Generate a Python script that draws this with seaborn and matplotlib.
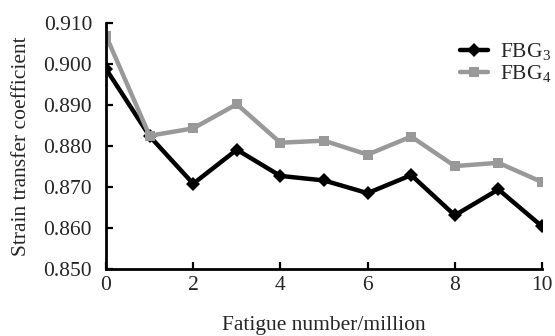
import numpy as np
import pandas as pd
import matplotlib
matplotlib.use("Agg")
import matplotlib.pyplot as plt
import seaborn as sns

# Fatigue cycles (million) and strain transfer coefficients of two gratings
fatigue = [0, 1, 2, 3, 4, 5, 6, 7, 8, 9, 10]
fbg3 = [0.8988, 0.8824, 0.8708, 0.8791, 0.8727, 0.8716, 0.8685, 0.8729, 0.8631, 0.8694, 0.8604]
fbg4 = [0.9069, 0.8825, 0.8843, 0.8902, 0.8808, 0.8813, 0.8779, 0.8823, 0.8751, 0.8759, 0.8712]
series_names = ["FBG$_3$", "FBG$_4$"]
x_ticks = [0, 2, 4, 6, 8, 10]
y_ticks = [0.850, 0.860, 0.870, 0.880, 0.890, 0.900, 0.910]

df = pd.DataFrame({
    "x": fatigue * 2,
    "y": fbg3 + fbg4,
    "series": [series_names[0]] * len(fbg3) + [series_names[1]] * len(fbg4),
})

sns.set_style("ticks")
plt.rcParams["font.family"] = ["Liberation Serif", "DejaVu Serif"]
plt.rcParams["mathtext.fontset"] = "custom"
plt.rcParams["mathtext.rm"] = "Liberation Serif"

fig = plt.figure(figsize=(5.55, 3.36), dpi=100)
ax = fig.add_axes([106 / 555, 1 - 269 / 336, (542 - 106) / 555, (269 - 23) / 336])

sns.lineplot(
    data=df, x="x", y="y", hue="series", style="series",
    palette={series_names[0]: "#000000", series_names[1]: "#999999"},
    markers={series_names[0]: "D", series_names[1]: "s"},
    dashes=False, linewidth=3.2, markersize=7.5, markeredgewidth=0,
    ax=ax,
)

ax.set_xlim(0, 10)
ax.set_ylim(0.850, 0.910)
ax.set_xticks(x_ticks)
ax.set_yticks(y_ticks)
ax.set_yticklabels([f"{v:.3f}" for v in y_ticks])
ax.tick_params(direction="in", length=5, width=1.6, labelsize=15.5, color="black")
ax.tick_params(axis="y", pad=10)
ax.tick_params(axis="x", pad=5)
for side in ("top", "right"):
    ax.spines[side].set_visible(False)
for side in ("left", "bottom"):
    ax.spines[side].set_linewidth(2.0)
    ax.spines[side].set_color("black")

ax.set_xlabel("Fatigue number/million", fontsize=15.5, labelpad=15)
ax.set_ylabel("Strain transfer coefficient", fontsize=15.5, labelpad=9)

leg = ax.legend(
    loc="upper right", bbox_to_anchor=(1.04, 0.96), frameon=False,
    fontsize=15.5, handlelength=1.3, handletextpad=0.55, labelspacing=0.0,
    borderaxespad=0,
)

fig.savefig("out.png", dpi=100, facecolor="white")
